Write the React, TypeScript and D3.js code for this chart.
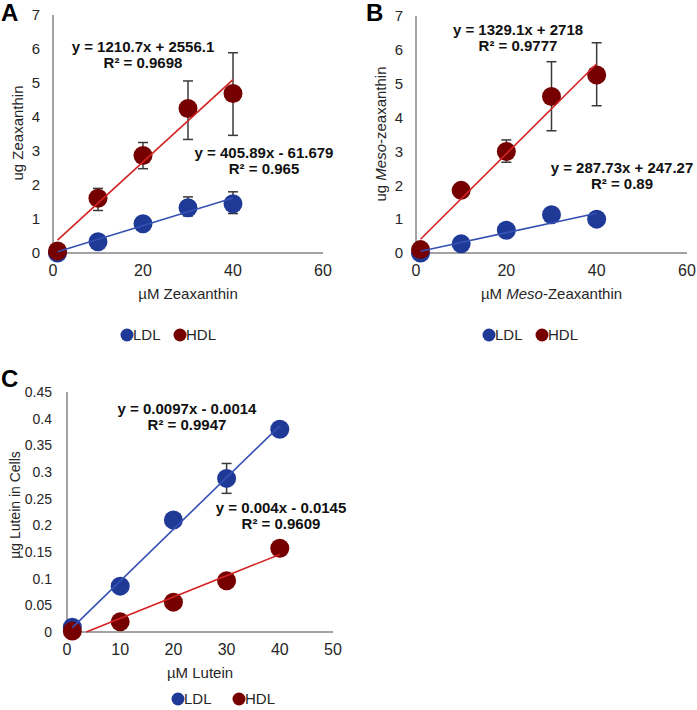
import * as d3 from "d3";

// concentrations used in every panel (µM)
const doses = [1, 10, 20, 30, 40];

// A: zeaxanthin
const zeaLDL = [0, 0.33, 0.86, 1.33, 1.45];
const zeaLDLLow = [null, null, null, 1.09, 1.16];
const zeaLDLHigh = [null, null, null, 1.65, 1.8];
const zeaHDL = [0.06, 1.61, 2.87, 4.25, 4.69];
const zeaHDLLow = [null, 1.25, 2.48, 3.34, 3.46];
const zeaHDLHigh = [null, 1.9, 3.25, 5.06, 5.89];
const zeaLDLFit = [0.040589, -0.0061679];
const zeaHDLFit = [0.12107, 0.25561];

// B: meso-zeaxanthin
const mesoLDL = [0, 0.27, 0.67, 1.13, 1.0];
const mesoLDLLow = [null, null, null, null, null];
const mesoLDLHigh = [null, null, null, null, null];
const mesoHDL = [0.1, 1.85, 3.0, 4.62, 5.26];
const mesoHDLLow = [null, null, 2.68, 3.61, 4.35];
const mesoHDLHigh = [null, null, 3.34, 5.65, 6.21];
const mesoLDLFit = [0.028773, 0.024727];
const mesoHDLFit = [0.13291, 0.2718];

// C: lutein
const lutLDL = [0.009, 0.086, 0.21, 0.288, 0.38];
const lutLDLLow = [null, null, null, 0.26, 0.369];
const lutLDLHigh = [null, null, null, 0.316, 0.39];
const lutHDL = [0.002, 0.019, 0.056, 0.096, 0.157];
const lutHDLLow = [null, null, null, null, null];
const lutHDLHigh = [null, null, null, null, null];
const lutLDLFit = [0.0097, -0.0014];
const lutHDLFit = [0.004, -0.0145];

const zeaXTicks = [0, 20, 40, 60];
const zeaYTicks = [0, 1, 2, 3, 4, 5, 6, 7];
const lutXTicks = [0, 10, 20, 30, 40, 50];
const lutYTicks = [0, 0.05, 0.1, 0.15, 0.2, 0.25, 0.3, 0.35, 0.4, 0.45];

const seriesNames = ["LDL", "HDL"];

const FONT = "'Liberation Sans', Arial, sans-serif";
const LDL_COLOR = "#1f3a96";
const HDL_COLOR = "#760000";
const LDL_LINE = "#3551b3";
const HDL_LINE = "#d22323";
const AXIS = "#a3a3a3";
const TEXT = "#262626";

function Panel({ cfg }: { cfg: any }) {
  const x = d3.scaleLinear().domain(cfg.xDomain).range([cfg.left, cfg.right]);
  const y = d3.scaleLinear().domain(cfg.yDomain).range([cfg.bottom, cfg.top]);
  const y0 = cfg.yDomain[0];
  const fmt = (v: number) => String(+v.toFixed(2));

  return (
    <g fontFamily={FONT}>
      <text x={cfg.letter[0]} y={cfg.letter[1]} fontSize={24} fontWeight="bold" dy="0.35em" fill="#000">
        {cfg.name}
      </text>

      {/* axes */}
      <line x1={x(cfg.xDomain[0])} x2={x(cfg.xDomain[0])} y1={y(cfg.yDomain[1])} y2={y(y0)} stroke={AXIS} strokeWidth={2} />
      <line x1={x(cfg.xDomain[0])} x2={x(cfg.xDomain[1])} y1={y(y0)} y2={y(y0)} stroke={AXIS} strokeWidth={2} />

      {cfg.yTicks.map((t: number) => (
        <text key={"y" + t} x={x(cfg.xDomain[0]) - cfg.yTickGap} y={y(t)} dy="0.35em" textAnchor="end" fontSize={cfg.yTickSize} fill={TEXT}>
          {fmt(t)}
        </text>
      ))}
      {cfg.xTicks.map((t: number) => (
        <text key={"x" + t} x={x(t)} y={y(y0) + 17} dy="0.35em" textAnchor="middle" fontSize={16} fill={TEXT}>
          {t}
        </text>
      ))}

      <text x={(cfg.left + cfg.right) / 2} y={y(y0) + 41} dy="0.35em" textAnchor="middle" fontSize={15} fill={TEXT}>
        {cfg.xTitle}
      </text>
      <text transform={`translate(${cfg.yTitlePos[0]},${cfg.yTitlePos[1]}) rotate(-90)`} dy="0.35em" textAnchor="middle" fontSize={cfg.yTitleSize} fill={TEXT}>
        {cfg.yTitle}
      </text>

      {cfg.series.map((s: any) => (
        <g key={s.name}>
          {doses.map((d, i) =>
            s.low[i] == null ? null : (
              <g key={i} stroke="#3a3a3a" strokeWidth={1.5}>
                <line x1={x(d)} x2={x(d)} y1={y(s.low[i])} y2={y(s.high[i])} />
                <line x1={x(d) - 5} x2={x(d) + 5} y1={y(s.low[i])} y2={y(s.low[i])} />
                <line x1={x(d) - 5} x2={x(d) + 5} y1={y(s.high[i])} y2={y(s.high[i])} />
              </g>
            )
          )}
          {doses.map((d, i) => (
            <circle key={"m" + i} cx={x(d)} cy={y(s.values[i])} r={9.5} fill={s.color} />
          ))}
        </g>
      ))}

      {cfg.series.map((s: any) => {
        const [m, b] = s.fit;
        const xs = Math.max(doses[0], (y0 - b) / m);
        const xe = doses[doses.length - 1];
        const line = d3.line<number>().x((d) => x(d)).y((d) => y(m * d + b));
        return <path key={"fit" + s.name} d={line([xs, xe]) || ""} stroke={s.line} strokeWidth={1.6} fill="none" />;
      })}

      {cfg.labels.map((l: any, i: number) => (
        <text key={"eq" + i} x={l.cx} fontSize={15} fontWeight="bold" textAnchor="middle" fill="#111">
          <tspan x={l.cx} y={l.cy} dy="0.35em">{l.eq}</tspan>
          <tspan x={l.cx} y={l.cy + 16} dy="0.35em">{l.r2}</tspan>
        </text>
      ))}

      {seriesNames.map((n, i) => (
        <g key={"lg" + n}>
          <circle cx={cfg.legend[i]} cy={cfg.legendY} r={6.5} fill={i === 0 ? LDL_COLOR : HDL_COLOR} />
          <text x={cfg.legend[i] + 6} y={cfg.legendY} dy="0.35em" fontSize={15} fill={TEXT}>
            {n}
          </text>
        </g>
      ))}
    </g>
  );
}

function makeSeries(ldl: number[], ldlLo: any[], ldlHi: any[], ldlFit: number[], hdl: number[], hdlLo: any[], hdlHi: any[], hdlFit: number[]) {
  return [
    { name: "LDL", color: LDL_COLOR, line: LDL_LINE, values: ldl, low: ldlLo, high: ldlHi, fit: ldlFit },
    { name: "HDL", color: HDL_COLOR, line: HDL_LINE, values: hdl, low: hdlLo, high: hdlHi, fit: hdlFit },
  ];
}

export default function App() {
  const panels = [
    {
      name: "A",
      letter: [1, 13],
      left: 53, right: 323, top: 15, bottom: 253,
      xDomain: [0, 60], yDomain: [0, 7],
      xTicks: zeaXTicks, yTicks: zeaYTicks, yTickGap: 13, yTickSize: 15,
      xTitle: "\u00b5M Zeaxanthin",
      yTitle: "ug Zeaxanthin", yTitlePos: [18, 133], yTitleSize: 15,
      series: makeSeries(zeaLDL, zeaLDLLow, zeaLDLHigh, zeaLDLFit, zeaHDL, zeaHDLLow, zeaHDLHigh, zeaHDLFit),
      labels: [
        { eq: "y = 1210.7x + 2556.1", r2: "R\u00b2 = 0.9698", cx: 143, cy: 47 },
        { eq: "y = 405.89x - 61.679", r2: "R\u00b2 = 0.965", cx: 264, cy: 153 },
      ],
      legend: [127, 180], legendY: 335,
    },
    {
      name: "B",
      letter: [366, 13],
      left: 416, right: 687, top: 16, bottom: 253,
      xDomain: [0, 60], yDomain: [0, 7],
      xTicks: zeaXTicks, yTicks: zeaYTicks, yTickGap: 13, yTickSize: 15,
      xTitle: (<>{"\u00b5M "}<tspan fontStyle="italic">Meso</tspan>-Zeaxanthin</>),
      yTitle: (<>{"ug "}<tspan fontStyle="italic">Meso</tspan>-zeaxanthin</>), yTitlePos: [381, 134], yTitleSize: 15,
      series: makeSeries(mesoLDL, mesoLDLLow, mesoLDLHigh, mesoLDLFit, mesoHDL, mesoHDLLow, mesoHDLHigh, mesoHDLFit),
      labels: [
        { eq: "y = 1329.1x + 2718", r2: "R\u00b2 = 0.9777", cx: 518, cy: 30 },
        { eq: "y = 287.73x + 247.27", r2: "R\u00b2 = 0.89", cx: 622, cy: 168 },
      ],
      legend: [489, 542], legendY: 335,
    },
    {
      name: "C",
      letter: [1, 379],
      left: 67, right: 333, top: 392, bottom: 632,
      xDomain: [0, 50], yDomain: [0, 0.45],
      xTicks: lutXTicks, yTicks: lutYTicks, yTickGap: 15, yTickSize: 14,
      xTitle: "\u00b5M Lutein",
      yTitle: "\u00b5g Lutein in Cells", yTitlePos: [15, 505], yTitleSize: 14,
      series: makeSeries(lutLDL, lutLDLLow, lutLDLHigh, lutLDLFit, lutHDL, lutHDLLow, lutHDLHigh, lutHDLFit),
      labels: [
        { eq: "y = 0.0097x - 0.0014", r2: "R\u00b2 = 0.9947", cx: 187, cy: 409 },
        { eq: "y = 0.004x - 0.0145", r2: "R\u00b2 = 0.9609", cx: 281, cy: 508 },
      ],
      legend: [178, 239], legendY: 699,
    },
  ];

  return (
    <svg width={697} height={710} style={{ position: "absolute", left: 0, top: 0, display: "block", background: "#fff" }}>
      <rect width={697} height={710} fill="#fff" />
      {panels.map((p) => (
        <Panel key={p.name} cfg={p} />
      ))}
    </svg>
  );
}
